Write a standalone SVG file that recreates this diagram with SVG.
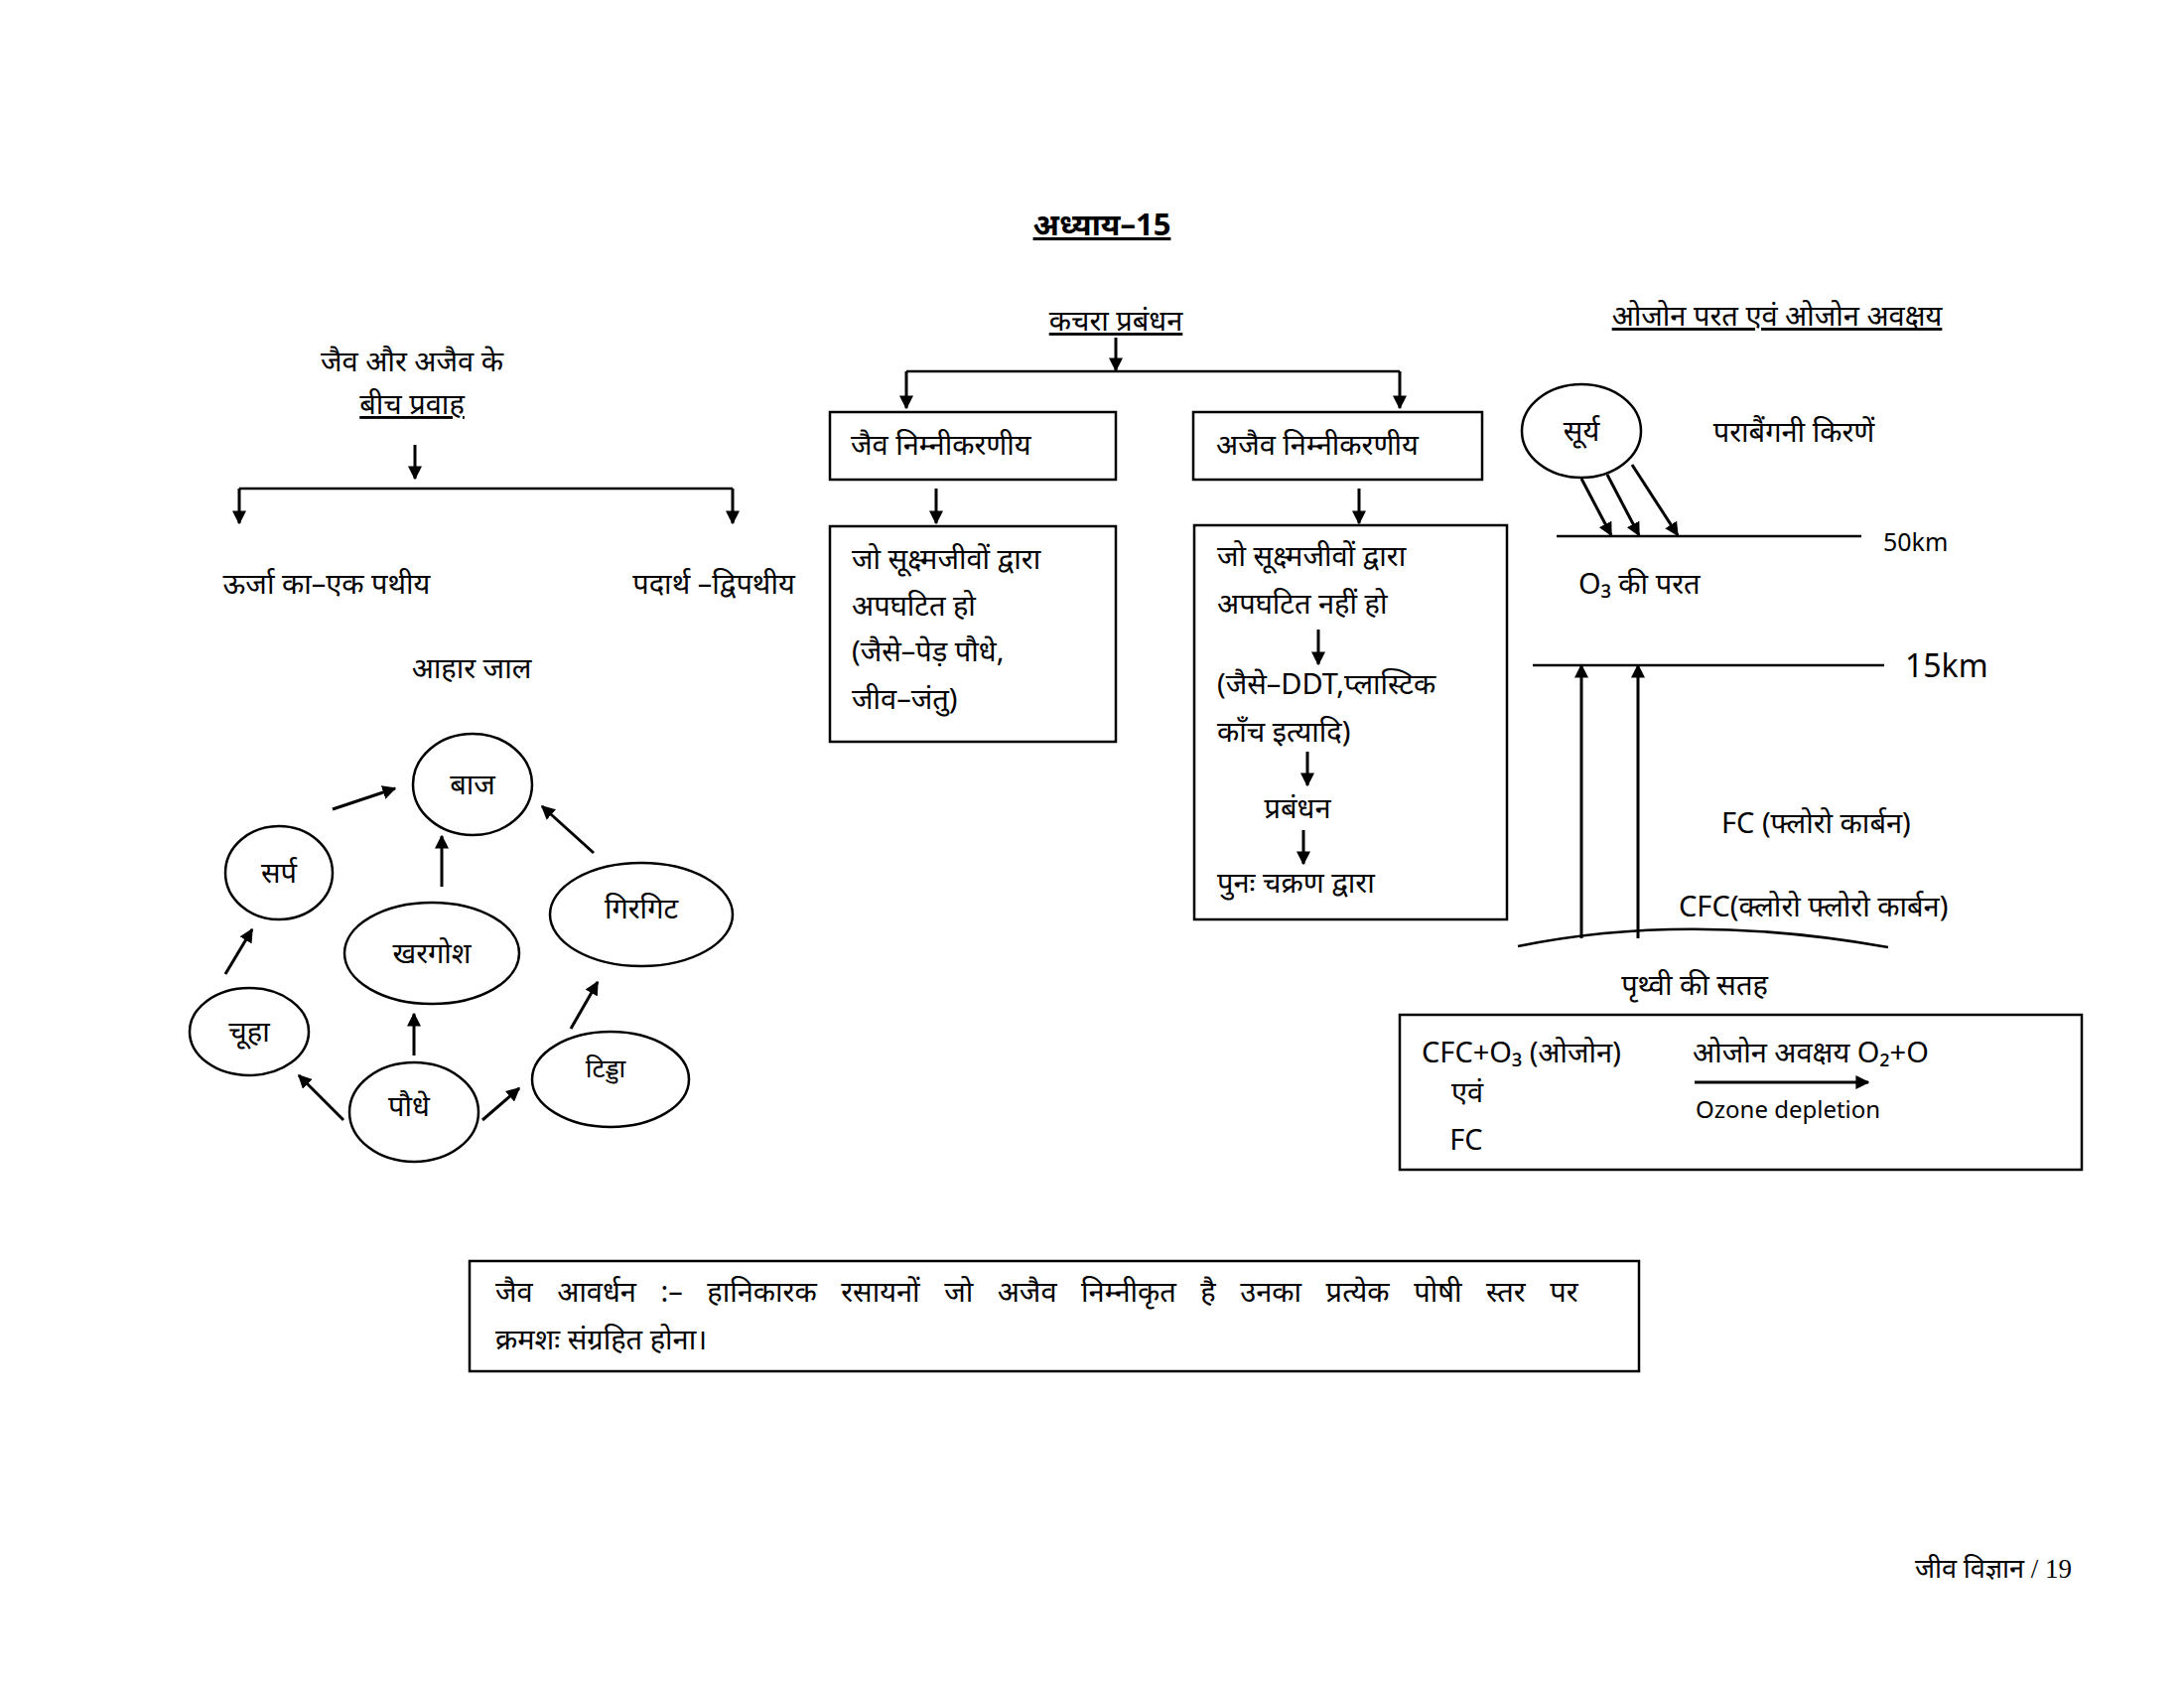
<svg xmlns="http://www.w3.org/2000/svg" width="2200" height="1700" viewBox="0 0 2200 1700">
<defs>
<marker id="ah" viewBox="0 0 10 10" refX="9" refY="5" markerWidth="14" markerHeight="14" orient="auto" markerUnits="userSpaceOnUse"><path d="M0,0 L10,5 L0,10 z" fill="#000"/></marker>
<style>
text{font-family:"Noto Sans","Liberation Sans",sans-serif;font-size:29px;fill:#000}
.c{text-anchor:middle}
.u{text-decoration:underline}
.b{fill:none;stroke:#000;stroke-width:2.5}
.l{stroke:#000;stroke-width:2.5;fill:none}
.a{stroke:#000;stroke-width:3;fill:none;marker-end:url(#ah)}
</style>
</defs>
<rect width="2200" height="1700" fill="#fff"/>
<text x="1110" y="237" class="c u" style="font-weight:bold;font-size:31px">अध्याय–15</text>

<g id="flow-left">
<text x="415" y="374" class="c">जैव और अजैव के</text>
<text x="415" y="417" class="c u">बीच प्रवाह</text>
<text x="329" y="598" class="c">ऊर्जा का–एक पथीय</text>
<text x="719" y="598" class="c">पदार्थ –द्विपथीय</text>
<text x="475" y="683" class="c">आहार जाल</text>
</g>
<g id="baj"><ellipse cx="476" cy="790" rx="60" ry="51" class="b"/><text x="476" y="800" class="c">बाज</text></g>
<g id="sarp"><ellipse cx="281" cy="879" rx="54" ry="47" class="b"/><text x="281" y="889" class="c">सर्प</text></g>
<g id="khargosh"><ellipse cx="435" cy="960" rx="88" ry="51" class="b"/><text x="435" y="970" class="c">खरगोश</text></g>
<g id="girgit"><ellipse cx="646" cy="921" rx="92" ry="52" class="b"/><text x="646" y="925" class="c">गिरगिट</text></g>
<g id="chuha"><ellipse cx="251" cy="1039" rx="60" ry="44" class="b"/><text x="251" y="1049" class="c">चूहा</text></g>
<g id="paudhe"><ellipse cx="417" cy="1120" rx="65" ry="50" class="b"/><text x="412" y="1124" class="c">पौधे</text></g>
<g id="tidda"><ellipse cx="615" cy="1087" rx="79" ry="48" class="b"/><text x="610" y="1085" class="c" style="font-size:26px">टिड्डा</text></g>

<g id="kachra">
<text x="1124" y="333" class="c u">कचरा प्रबंधन</text>
</g>
<g id="box1"><rect x="836" y="415" width="288" height="68" class="b"/><text x="857" y="458">जैव निम्नीकरणीय</text></g>
<g id="box2"><rect x="1202" y="415" width="291" height="68" class="b"/><text x="1225" y="458">अजैव निम्नीकरणीय</text></g>
<g id="box3"><rect x="836" y="530" width="288" height="217" class="b"/>
<text x="858" y="573">जो सूक्ष्मजीवों द्वारा</text>
<text x="858" y="620">अपघटित हो</text>
<text x="858" y="666">(जैसे–पेड़ पौधे,</text>
<text x="858" y="714">जीव–जंतु)</text></g>
<g id="box4"><rect x="1203" y="529" width="315" height="397" class="b"/>
<text x="1226" y="570">जो सूक्ष्मजीवों द्वारा</text>
<text x="1226" y="618">अपघटित नहीं हो</text>
<text x="1226" y="699">(जैसे–DDT,प्लास्टिक</text>
<text x="1226" y="747">काँच इत्यादि)</text>
<text x="1307" y="824" class="c">प्रबंधन</text>
<text x="1226" y="899">पुनः चक्रण द्वारा</text></g>

<g id="ozone">
<text x="1790" y="328" class="c u">ओजोन परत एवं ओजोन अवक्षय</text>
<ellipse cx="1593" cy="434" rx="60" ry="47" class="b"/><text x="1593" y="444" class="c">सूर्य</text>
<text x="1807" y="445" class="c">पराबैंगनी किरणें</text>
<text x="1897" y="555" style="font-size:25px">50km</text>
<text x="1590" y="598">O₃ की परत</text>
<text x="1919" y="682" style="font-size:32px">15km</text>
<text x="1734" y="839">FC (फ्लोरो कार्बन)</text>
<text x="1691" y="923">CFC(क्लोरो फ्लोरो कार्बन)</text>
<text x="1707" y="1002" class="c">पृथ्वी की सतह</text>
</g>
<g id="eqbox"><rect x="1410" y="1022" width="687" height="156" class="b"/>
<text x="1432" y="1070">CFC+O₃  (ओजोन)</text>
<text x="1478" y="1110" class="c">एवं</text>
<text x="1477" y="1158" class="c">FC</text>
<text x="1705" y="1070">ओजोन अवक्षय O₂+O</text>
<text x="1708" y="1126" style="font-size:24px">Ozone depletion</text></g>

<g id="bio"><rect x="473" y="1270" width="1178" height="111" class="b"/>
<text x="499" y="1311" style="word-spacing:17px">जैव आवर्धन :– हानिकारक रसायनों जो अजैव निम्नीकृत है उनका प्रत्येक पोषी स्तर पर</text>
<text x="499" y="1359">क्रमशः संग्रहित होना।</text></g>

<text x="2087" y="1589" style="text-anchor:end;font-family:'Liberation Serif','Noto Sans',serif;font-size:27px">जीव विज्ञान / 19</text>

<g id="connectors">
<path d="M418 448V482" class="a"/>
<path d="M241 492H738" class="l"/>
<path d="M241 492V527" class="a"/><path d="M738 492V527" class="a"/>
<path d="M335 815L398 794" class="a"/>
<path d="M445 893V842" class="a"/>
<path d="M598 859L546 812" class="a"/>
<path d="M227 981L254 936" class="a"/>
<path d="M417 1063V1021" class="a"/>
<path d="M346 1128L301 1083" class="a"/>
<path d="M486 1128L523 1096" class="a"/>
<path d="M575 1036L602 989" class="a"/>
<path d="M1124 340V373" class="a"/>
<path d="M913 374H1410" class="l"/>
<path d="M913 374V411" class="a"/><path d="M1410 374V411" class="a"/>
<path d="M943 492V527" class="a"/><path d="M1369 492V527" class="a"/>
<path d="M1328 634V669" class="a"/><path d="M1317 757V791" class="a"/><path d="M1313 836V870" class="a"/>
<path d="M1593 482L1623 539" class="a"/><path d="M1619 478L1651 539" class="a"/><path d="M1644 468L1690 539" class="a"/>
<path d="M1568 540H1875" class="l"/>
<path d="M1544 670H1898" class="l"/>
<path d="M1593 945V670" class="a"/><path d="M1650 945V670" class="a"/>
<path d="M1529 953Q1700 918 1902 954" class="l"/>
<path d="M1707 1090H1882" class="a"/>
</g>
</svg>
